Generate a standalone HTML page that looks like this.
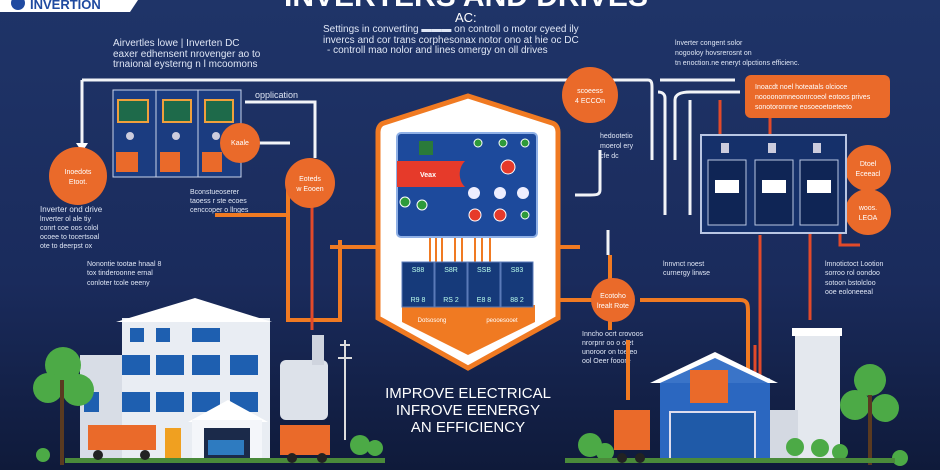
<!DOCTYPE html>
<html><head><meta charset="utf-8"><style>
html,body{margin:0;padding:0;width:940px;height:470px;overflow:hidden;background:#1a2a55}
svg{display:block}
text{font-family:"Liberation Sans",sans-serif}
</style></head><body>
<svg width="940" height="470" viewBox="0 0 940 470" xmlns="http://www.w3.org/2000/svg">
<defs>
<linearGradient id="bg" x1="0" y1="0" x2="0" y2="1">
<stop offset="0" stop-color="#1f3468"/><stop offset="0.6" stop-color="#1a2b5c"/><stop offset="1" stop-color="#0f1a3a"/>
</linearGradient>
</defs>
<rect width="940" height="470" fill="url(#bg)"/>
<path d="M0 0H138L130 12H0Z" fill="#fff"/>
<circle cx="18" cy="3" r="7" fill="#1f4aa0"/>
<text x="30" y="9" font-size="13" font-weight="bold" fill="#1f4aa0">INVERTION</text>
<text x="466" y="6" font-size="30" font-weight="bold" fill="#fff" text-anchor="middle">INVERTERS AND DRIVES</text>
<text x="455" y="22" font-size="13" fill="#fff">AC:</text>
<g font-size="10" fill="#dfe6f5">
<text x="323" y="32">Settings in converting ▬▬▬ on controll o motor cyeed ily</text>
<text x="323" y="43">invercs and cor trans corphesonax  notor ono at hie oc DC</text>
<text x="327" y="53">- controll mao nolor and lines omergy on oll drives</text>
<text x="113" y="46">Airvertles lowe | Inverten DC</text>
<text x="113" y="57">eaxer edhensent nrovenger ao to</text>
<text x="113" y="67">trnaional eysterng n l mcoomons</text>
<text x="255" y="98" font-size="9">opplication</text>
</g>
<g font-size="7" fill="#dfe6f5">
<text x="675" y="45">lnverter congent solor</text>
<text x="675" y="55">nogooloy hovsrerosnt on</text>
<text x="675" y="65">tn enoction.ne eneryt olpctions efficienc.</text>
<text x="600" y="138">hedootetio</text><text x="600" y="148">moerol ery</text><text x="600" y="158">cfe dc</text>
<text x="40" y="212" font-size="8">Inverter ond drive</text>
<text x="40" y="221">lnverter ol ale tiy</text><text x="40" y="230">conrt coe oos colol</text><text x="40" y="239">ocoee to tocertsoal</text><text x="40" y="248">ote to deerpst ox</text>
<text x="190" y="194">Bconstueoserer</text><text x="190" y="203">taoess r ste ecoes</text><text x="190" y="212">cenccoper o llnges</text>
<text x="87" y="266">Nonontie tootae hnaal 8</text><text x="87" y="275">tox tinderoonne ernal</text><text x="87" y="285">conloter tcole oeeny</text>
<text x="663" y="266">lnnvnct noest</text><text x="663" y="275">curnergy lirwse</text>
<text x="825" y="266">lmnotictoct Lootion</text><text x="825" y="275">sorroo rol oondoo</text><text x="825" y="285">sotoon bstolcloo</text><text x="825" y="294">ooe eoloneeeal</text>
<text x="582" y="336">Inncho ocrt crovoos</text><text x="582" y="345">nrorpnr oo o olet</text><text x="582" y="354">unoroor on toe eo</text><text x="582" y="363">ool Oeer fooore</text>
</g>
<g stroke="#f2f4f8" stroke-width="3" fill="none">
<path d="M240 80H648C652 80 652 84 652 88V160"/>
<path d="M82 80V143"/>
<path d="M240 80H82"/>
<path d="M245 102H315V158"/>
<path d="M660 80H735"/>
<path d="M600 150V190C600 195 596 195 590 195H575"/>
<path d="M665 215V98C665 94 662 92 658 92"/>
<path d="M675 160V100C675 95 680 92 690 92H740"/>
<path d="M255 143H290"/>
<path d="M608 230V255"/>
<path d="M690 100V215"/>
</g>
<polygon points="76,143 88,143 82,152" fill="#fff"/>
<g stroke="#f07a22" stroke-width="4" fill="none">
<path d="M330 247H580"/>
<path d="M288 180V320H340V240"/>
<path d="M215 215H290"/>
<path d="M560 300H600"/>
<path d="M640 300H740C748 300 748 305 748 312V380"/>
<path d="M610 255V330"/>
<path d="M628 340V400"/>
</g>
<g stroke="#e24a2a" stroke-width="3" fill="none">
<path d="M312 190V330"/>
<path d="M760 235V460"/><path d="M810 200V320"/>
<path d="M720 100V140"/><path d="M770 100V140"/>
<path d="M840 230V245H860"/>
<path d="M755 345V455H690"/>
</g>
<g>
<rect x="113" y="90" width="128" height="87" fill="#1d3f86" stroke="#8fa7d6"/>
<rect x="113" y="90" width="43" height="87" fill="#1b3c80" stroke="#c9d3ea"/>
<rect x="156" y="90" width="42" height="87" fill="#1b3c80" stroke="#c9d3ea"/>
<rect x="198" y="90" width="43" height="87" fill="#1b3c80" stroke="#c9d3ea"/>
<rect x="118" y="100" width="30" height="22" fill="#1e6a4a" stroke="#f0a03c" stroke-width="2"/>
<rect x="163" y="100" width="28" height="22" fill="#1e6a4a" stroke="#f0a03c" stroke-width="2"/>
<rect x="205" y="100" width="28" height="22" fill="#1e6a4a" stroke="#f0a03c" stroke-width="2"/>
<circle cx="130" cy="136" r="4" fill="#ccd"/><circle cx="176" cy="136" r="4" fill="#ccd"/><circle cx="216" cy="136" r="4" fill="#ccd"/>
<rect x="116" y="152" width="22" height="20" fill="#ea6a2a"/><rect x="160" y="152" width="20" height="20" fill="#ea6a2a"/><rect x="202" y="152" width="20" height="20" fill="#ea6a2a"/>
</g>
<g fill="#ea6a2a">
<circle cx="78" cy="176" r="29"/>
<circle cx="240" cy="143" r="20"/>
<circle cx="310" cy="183" r="25"/>
<circle cx="590" cy="95" r="28"/>
<circle cx="613" cy="300" r="22"/>
<circle cx="868" cy="168" r="23"/>
<circle cx="868" cy="212" r="23"/>
</g>
<g font-size="7" fill="#fff" text-anchor="middle">
<text x="78" y="174">Inoedots</text><text x="78" y="184">Etoot.</text>
<text x="240" y="145">Kaale</text>
<text x="310" y="181">Eoteds</text><text x="310" y="191">w Eooen</text>
<text x="590" y="93">scoeess</text><text x="590" y="103">4 ECCOn</text>
<text x="613" y="298">Ecotoho</text><text x="613" y="308">lrealt Rote</text>
<text x="868" y="166">Dtoel</text><text x="868" y="176">Eceeacl</text>
<text x="868" y="210">woos.</text><text x="868" y="220">LEOA</text>
</g>
<rect x="745" y="75" width="145" height="43" rx="6" fill="#ea6a2a"/>
<g font-size="7" fill="#fff"><text x="755" y="89">Inoacdt noel hoteatals olcioce</text><text x="755" y="99">noooonomneoonrcoeol eotoos prives</text><text x="755" y="109">sonotoronnne eosoeoetoeteeto</text></g>
<rect x="701" y="135" width="145" height="98" fill="#15306a" stroke="#b9c6e3" stroke-width="2"/>
<g fill="#0f2555" stroke="#b9c6e3">
<rect x="708" y="160" width="38" height="65"/><rect x="755" y="160" width="38" height="65"/><rect x="800" y="160" width="38" height="65"/>
</g>
<g fill="#fff"><rect x="715" y="180" width="24" height="13"/><rect x="762" y="180" width="24" height="13"/><rect x="807" y="180" width="24" height="13"/>
<rect x="721" y="143" width="8" height="10" fill="#ccd"/><rect x="768" y="143" width="8" height="10" fill="#ccd"/><rect x="813" y="143" width="8" height="10" fill="#ccd"/></g>
<!-- central shield -->
<path d="M468 96L552 123C556 124 558 128 558 132V318L468 368L378 318V132C378 128 380 124 384 123Z" fill="#fff" stroke="#f07a22" stroke-width="5"/>
<path d="M402 305H535V322L468 355L402 322Z" fill="#f07a22"/>
<rect x="397" y="133" width="140" height="104" rx="4" fill="#1d4a9c" stroke="#8fb0e6" stroke-width="2"/>
<path d="M397 161H465C458 168 458 180 465 187H397Z" fill="#e63a2a"/>
<text x="420" y="177" font-size="7" fill="#fff" font-weight="bold">Veax</text>
<rect x="419" y="141" width="14" height="14" fill="#2a7a3a"/>
<g fill="#2e9a3a" stroke="#fff"><circle cx="478" cy="143" r="4"/><circle cx="503" cy="143" r="4"/><circle cx="525" cy="143" r="4"/><circle cx="405" cy="202" r="5"/><circle cx="422" cy="205" r="5"/><circle cx="525" cy="215" r="4"/></g>
<g fill="#e63a2a" stroke="#fff"><circle cx="508" cy="167" r="7"/><circle cx="475" cy="215" r="6"/><circle cx="500" cy="215" r="6"/></g>
<g fill="#eef"><circle cx="474" cy="193" r="6"/><circle cx="500" cy="193" r="6"/><circle cx="523" cy="193" r="6"/></g>
<g stroke="#f07a22" stroke-width="2"><path d="M430 238V262M436 238V262M442 238V262M455 238V262M462 238V262M475 238V262M482 238V262M490 238V262"/></g>
<g fill="#163a7a" stroke="#5a7ab8"><rect x="402" y="262" width="32" height="45"/><rect x="435" y="262" width="32" height="45"/><rect x="468" y="262" width="32" height="45"/><rect x="501" y="262" width="32" height="45"/></g>
<g font-size="7" fill="#bfe" text-anchor="middle"><text x="418" y="272">S88</text><text x="451" y="272">S8R</text><text x="484" y="272">SSB</text><text x="517" y="272">S83</text>
<text x="418" y="302">R9 8</text><text x="451" y="302">RS 2</text><text x="484" y="302">E8 8</text><text x="517" y="302">88 2</text></g>
<g font-size="6" fill="#fff" text-anchor="middle"><text x="432" y="322">Dotsosong</text><text x="502" y="322">peooesooet</text></g>
<text x="468" y="398" font-size="15" fill="#fff" text-anchor="middle">IMPROVE ELECTRICAL</text>
<text x="468" y="415" font-size="15" fill="#fff" text-anchor="middle">INFROVE EENERGY</text>
<text x="468" y="432" font-size="15" fill="#fff" text-anchor="middle">AN EFFICIENCY</text>
<rect x="80" y="355" width="60" height="105" fill="#d8dde6"/>
<rect x="122" y="318" width="148" height="142" fill="#e9edf3"/>
<polygon points="116,322 195,298 272,322" fill="#fff"/>
<g fill="#1e5fb0"><rect x="130" y="328" width="14" height="14"/><rect x="156" y="328" width="14" height="14"/><rect x="192" y="328" width="28" height="14"/><rect x="122" y="355" width="28" height="20"/><rect x="156" y="355" width="28" height="20"/><rect x="192" y="355" width="28" height="20"/><rect x="230" y="355" width="28" height="20"/><rect x="84" y="392" width="15" height="20"/><rect x="122" y="392" width="28" height="20"/><rect x="156" y="392" width="28" height="20"/><rect x="192" y="392" width="28" height="20"/><rect x="230" y="392" width="28" height="20"/></g>
<polygon points="188,422 228,400 268,422" fill="#fff"/>
<rect x="192" y="420" width="70" height="40" fill="#f4f6fa"/>
<rect x="204" y="428" width="46" height="32" fill="#1b2a4a"/>
<rect x="208" y="440" width="36" height="15" fill="#2e7bc0"/>
<rect x="88" y="425" width="68" height="25" fill="#ea6a2a"/>
<rect x="165" y="428" width="16" height="30" fill="#f0a020"/>
<rect x="280" y="360" width="48" height="60" rx="6" fill="#dde2ea"/>
<rect x="280" y="425" width="50" height="30" fill="#ea6a2a"/>
<rect x="312" y="335" width="12" height="30" fill="#cfd4de"/>
<path d="M345 340V440M338 358H352M340 345H350" stroke="#ddd" stroke-width="2"/>
<g fill="#4caa46"><circle cx="63" cy="365" r="18"/><circle cx="48" cy="388" r="15"/><circle cx="78" cy="390" r="16"/><circle cx="360" cy="445" r="10"/><circle cx="375" cy="448" r="8"/><circle cx="43" cy="455" r="7"/></g>
<rect x="60" y="380" width="4" height="85" fill="#5a3a20"/>
<rect x="660" y="378" width="110" height="82" fill="#2b67c0"/>
<polygon points="650,383 715,352 778,383" fill="#fff"/>
<polygon points="660,383 715,358 768,383" fill="#3a74c8"/>
<rect x="690" y="370" width="38" height="33" fill="#ea6a2a"/>
<rect x="670" y="412" width="85" height="48" fill="#1f5aa8" stroke="#dde" stroke-width="2"/>
<rect x="614" y="410" width="36" height="40" fill="#ea6a2a"/>
<rect x="795" y="332" width="45" height="128" fill="#e4e8ee"/>
<rect x="792" y="328" width="50" height="8" fill="#fff"/>
<rect x="770" y="410" width="28" height="50" fill="#d4d9e2"/>
<g fill="#4caa46"><circle cx="870" cy="380" r="16"/><circle cx="855" cy="405" r="15"/><circle cx="885" cy="408" r="14"/><circle cx="590" cy="445" r="12"/><circle cx="605" cy="452" r="9"/><circle cx="795" cy="447" r="9"/><circle cx="820" cy="448" r="9"/><circle cx="840" cy="452" r="8"/><circle cx="900" cy="458" r="8"/></g>
<rect x="868" y="395" width="4" height="70" fill="#5a3a20"/>
<rect x="65" y="458" width="320" height="5" fill="#4a8a3a"/>
<rect x="565" y="458" width="330" height="5" fill="#4a8a3a"/>
<g fill="#222"><circle cx="98" cy="455" r="5"/><circle cx="145" cy="455" r="5"/><circle cx="292" cy="458" r="5"/><circle cx="322" cy="458" r="5"/><circle cx="622" cy="458" r="5"/><circle cx="640" cy="458" r="5"/></g>
</svg>
</body></html>
